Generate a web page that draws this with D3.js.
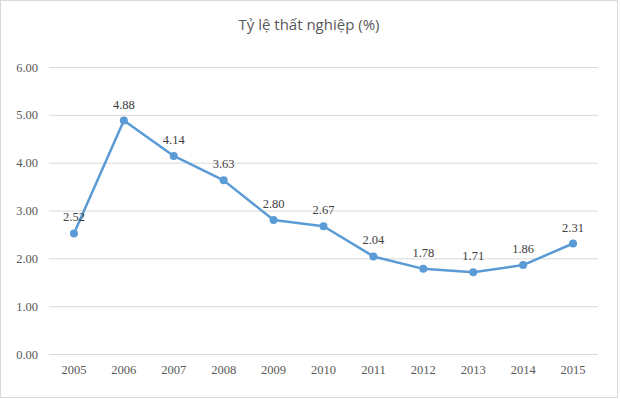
<!DOCTYPE html>
<html>
<head>
<meta charset="utf-8">
<script src="https://cdn.jsdelivr.net/npm/d3@7"></script>
<style>
	body { margin: 0; background: #fff; }
	.axis text { font-family: "Liberation Serif", serif; font-size: 12.5px; fill: #595959; }
	.label { font-family: "Liberation Serif", serif; font-size: 12.5px; fill: #404040; }
	.title { font-family: "Open Sans", sans-serif; font-size: 15px; fill: #595959; }
</style>
</head>
<body>
<svg id="chart"></svg>
<script>
var years = ["2005", "2006", "2007", "2008", "2009", "2010", "2011", "2012", "2013", "2014", "2015"];
var rates = [2.52, 4.88, 4.14, 3.63, 2.80, 2.67, 2.04, 1.78, 1.71, 1.86, 2.31];
var yTicks = [0, 1, 2, 3, 4, 5, 6];

var W = 620, H = 399;
var margin = {top: 67, right: 22, bottom: 45, left: 49};
var width = W - margin.left - margin.right,
	height = H - margin.top - margin.bottom;

var svg = d3.select("#chart")
	.attr("width", W)
	.attr("height", H);

/* border */
svg.append("rect")
	.attr("x", 0.5).attr("y", 0.5)
	.attr("width", 617).attr("height", 397)
	.attr("fill", "#fff")
	.attr("stroke", "#d9d9d9");

svg.append("text")
	.attr("class", "title")
	.attr("x", 309)
	.attr("y", 30)
	.attr("text-anchor", "middle")
	.text("Tỷ lệ thất nghiệp (%)");

var g = svg.append("g")
	.attr("transform", "translate(" + margin.left + "," + margin.top + ")");

var x = d3.scaleBand()
	.domain(years)
	.range([0, width]);

var y = d3.scaleLinear()
	.domain([0, 6])
	.range([height, 0]);

/* gridlines + y labels */
var yAxis = g.append("g")
	.attr("class", "axis")
	.call(d3.axisLeft(y).tickValues(yTicks).tickSize(-width).tickPadding(11)
		.tickFormat(d3.format(".2f")));
yAxis.select(".domain").remove();
yAxis.selectAll("line").attr("stroke", "#d9d9d9");

var xAxis = g.append("g")
	.attr("class", "axis")
	.attr("transform", "translate(0," + height + ")")
	.call(d3.axisBottom(x).tickSize(0).tickPadding(11));
xAxis.select(".domain").remove();

var line = d3.line()
	.x(function(d, i) { return x(years[i]) + x.bandwidth() / 2; })
	.y(function(d) { return y(d); });

g.append("path")
	.datum(rates)
	.attr("fill", "none")
	.attr("stroke", "#5b9bd5")
	.attr("stroke-width", 2.5)
	.attr("stroke-linejoin", "round")
	.attr("d", line);

g.selectAll(".dot")
	.data(rates)
	.enter().append("circle")
	.attr("class", "dot")
	.attr("cx", function(d, i) { return x(years[i]) + x.bandwidth() / 2; })
	.attr("cy", function(d) { return y(d); })
	.attr("r", 4)
	.attr("fill", "#5b9bd5");

g.selectAll(".label")
	.data(rates)
	.enter().append("text")
	.attr("class", "label")
	.attr("x", function(d, i) { return x(years[i]) + x.bandwidth() / 2; })
	.attr("y", function(d) { return y(d) - 12; })
	.attr("text-anchor", "middle")
	.text(function(d) { return d.toFixed(2); });
</script>
</body>
</html>
